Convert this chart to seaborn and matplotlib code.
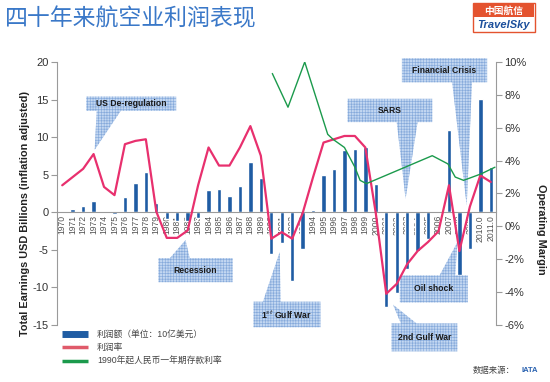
import numpy as np
import pandas as pd
import matplotlib
matplotlib.use("Agg")
import matplotlib.pyplot as plt
import seaborn as sns
from matplotlib.patches import Polygon, Rectangle
from matplotlib.lines import Line2D

# ---------------- data ----------------
years = list(range(1970, 2012))
year_labels = [str(y) for y in range(1970, 2010)] + ["2010.0", "2011.0"]
earnings = [0.0, 0.5, 0.9, 1.5, 0.1, -0.2, 2.1, 3.9, 5.3, 1.2,
            -0.9, -1.1, -1.2, -0.8, 3.0, 3.1, 2.2, 3.5, 6.7, 4.5,
            -5.5, -4.1, -9.1, -4.9, 0.3, 5.0, 5.7, 8.3, 8.4, 8.7,
            3.7, -12.6, -10.8, -7.5, -5.1, -3.6, 0.0, 10.9, -8.4, -4.9,
            15.1, 6.0]
margin = [2.5, 3.0, 3.5, 4.4, 2.4, 1.9, 5.0, 5.2, 5.3, 0.9,
          -0.7, -0.7, -0.25, 2.5, 4.8, 3.7, 3.7, 4.8, 6.1, 4.3,
          -0.75, -0.35, -0.75, 0.8, 3.0, 5.1, 5.3, 5.5, 5.5, 4.8,
          0.8, -4.1, -3.5, -2.3, -1.5, -0.95, -0.3, 2.5, -1.5, 1.2,
          3.1, 2.7]
green_years = [1990.1, 1991.6, 1993.2, 1995.4, 1995.9, 1997.0, 1998.0, 1998.5,
               1999.1, 2005.4, 2006.9, 2007.6, 2008.4, 2010.1, 2011.4]
green_rate = [9.3, 7.25, 10.0, 5.6, 5.3, 4.8, 3.6, 2.8,
              2.6, 4.3, 3.8, 3.0, 2.8, 3.2, 3.6]

left_ticks = [-15, -10, -5, 0, 5, 10, 15, 20]
right_ticks = [-6, -4, -2, 0, 2, 4, 6, 8, 10]

legend_labels = ["利润额（单位：10亿美元）", "利润率", "1990年起人民币一年期存款利率"]

# callouts: label, box (x0, x1, ybottom, ytop) in data units, pointer side, base x0, x1, tip
callouts = [
    ("US De-regulation", (2.3, 10.9, 13.5, 15.4), "bottom", (3.3, 5.6), (3.1, 8.3)),
    ("Recession", (9.2, 16.3, -9.3, -6.1), "top", (10.3, 12.2), (11.8, -3.7)),
    (r"1$^{st}$ Gulf War", (18.3, 24.7, -15.3, -11.9), "top", (19.2, 20.9), (20.8, -5.3)),
    ("SARS", (27.3, 35.4, 12.0, 15.1), "bottom", (32.0, 34.0), (32.85, 1.8)),
    ("Financial Crisis", (32.5, 40.65, 17.3, 20.5), "bottom", (37.3, 39.2), (38.7, 0.9)),
    ("Oil shock", (32.3, 38.8, -12.0, -8.4), "top", (36.1, 37.6), (37.8, -4.0)),
    ("2nd Gulf War", (31.5, 37.8, -18.5, -14.8), "top", (32.4, 33.9), (31.65, -12.3)),
]

# ---------------- style ----------------
sns.set_theme(style="white")
plt.rcParams["font.family"] = ["Liberation Sans", "Noto Sans CJK SC", "DejaVu Sans"]
plt.rcParams["axes.unicode_minus"] = False
plt.rcParams["hatch.linewidth"] = 0.45

BAR = "#1f5ca3"
PINK = "#e8306e"
GREEN = "#1b9a4c"
SPINE = "#9a9a9a"
TXT = "#333333"

fig = plt.figure(figsize=(5.5, 3.82), dpi=100)
W, H = 550, 382
ax = fig.add_axes([57 / W, 1 - 325 / H, (496 - 57) / W, (325 - 62) / H])

df = pd.DataFrame({"year": year_labels, "earn": earnings})
sns.barplot(data=df, x="year", y="earn", color=BAR, saturation=1, width=0.42,
            ax=ax, zorder=2)
ax.set_xlim(-0.5, len(years) - 0.5)
ax.set_ylim(-15, 20)
ax.set_yticks(left_ticks)
ax.set_yticklabels([str(t) for t in left_ticks])
ax.set_xlabel("")
ax.set_ylabel("")
ax.spines["bottom"].set_position(("data", 0))
for s in ["top", "right"]:
    ax.spines[s].set_visible(False)
ax.spines["left"].set_color(SPINE)
ax.spines["bottom"].set_color(SPINE)
ax.spines["left"].set_linewidth(0.8)
ax.spines["bottom"].set_linewidth(0.8)
ax.tick_params(axis="y", direction="out", length=4, width=0.8, color=SPINE,
               labelsize=8, labelcolor=TXT, pad=2, left=True)
ax.tick_params(axis="x", length=0, labelsize=6.2, labelcolor="#555555", pad=2)
plt.setp(ax.get_xticklabels(), rotation=90, va="top", ha="center")

ax2 = ax.twinx()
pos = np.arange(len(years))
sns.lineplot(x=pos, y=margin, ax=ax2, color=PINK, linewidth=1.6, zorder=4)
sns.lineplot(x=np.array(green_years) - years[0], y=green_rate, ax=ax2, sort=False,
             color=GREEN, linewidth=1.0, zorder=4)
ax2.set_ylim(-6, 10)
ax2.set_yticks(right_ticks)
ax2.set_yticklabels([f"{t}%" for t in right_ticks])
ax2.set_ylabel("")
for s in ["top", "bottom", "left"]:
    ax2.spines[s].set_visible(False)
ax2.spines["right"].set_color(SPINE)
ax2.spines["right"].set_linewidth(0.8)
ax2.tick_params(axis="y", direction="out", length=4, width=0.8, color=SPINE,
                labelsize=8, labelcolor=TXT, pad=2, right=True)
ax2.set_xlim(-0.5, len(years) - 0.5)

# callouts (drawn in left-axis units via ax.transData)
for label, (x0, x1, yb, yt), side, (bx0, bx1), (tx, ty) in callouts:
    if side == "top":
        verts = [(x0, yt), (bx0, yt), (tx, ty), (bx1, yt), (x1, yt), (x1, yb), (x0, yb)]
    else:
        verts = [(x0, yb), (bx0, yb), (tx, ty), (bx1, yb), (x1, yb), (x1, yt), (x0, yt)]
    poly = Polygon(verts, closed=True, facecolor="#c3d7f1", edgecolor="#86aadb",
                   hatch="++++++", linewidth=0, transform=ax.transData,
                   clip_on=False, zorder=3)
    ax.add_patch(poly)
    ax.text((x0 + x1) / 2, (yb + yt) / 2, label, transform=ax.transData,
            ha="center", va="center", fontsize=6.2, fontweight="bold",
            color="#1a1a1a", zorder=5, clip_on=False)

# axis titles
fig.text(25 / W, 1 - 214 / H, "Total Earnings USD Billions (inflation adjusted)",
         rotation=90, ha="center", va="center", fontsize=7.8, fontweight="bold",
         color="#222222")
fig.text(541 / W, 1 - 229 / H, "Operating Margin", rotation=-90, ha="center",
         va="center", fontsize=7.8, fontweight="bold", color="#222222")

# title
fig.text(5 / W, 1 - 19 / H, "四十年来航空业利润表现", ha="left", va="center",
         fontsize=16.5, color="#3a78c8", family=["Noto Sans CJK SC"])

# TravelSky logo
fig.add_artist(Rectangle((473 / W, 1 - 32 / H), 62 / W, 29 / H,
                         transform=fig.transFigure, facecolor="white",
                         edgecolor="#e4532f", linewidth=1.0))
fig.add_artist(Rectangle((474 / W, 1 - 17 / H), 60 / W, 13 / H,
                         transform=fig.transFigure, facecolor="#e4532f",
                         edgecolor="none"))
fig.text(504 / W, 1 - 10.5 / H, "中国航信", ha="center", va="center", fontsize=7,
         color="white", fontweight="bold", family=["Noto Sans CJK SC"])
fig.text(504 / W, 1 - 25 / H, "TravelSky", ha="center", va="center", fontsize=8,
         color="#1c4f9c", fontweight="bold", style="italic")

# legend
handles = [Line2D([], [], color=BAR, linewidth=5, solid_capstyle="butt"),
           Line2D([], [], color="#e05a6a", linewidth=2.5, solid_capstyle="butt"),
           Line2D([], [], color=GREEN, linewidth=2.5, solid_capstyle="butt")]
fig.legend(handles, legend_labels, loc="upper left",
           bbox_to_anchor=(62 / W, 1 - 330 / H), frameon=False, fontsize=6.3,
           handlelength=3.0, handletextpad=1.0, labelspacing=0.5,
           borderpad=0, borderaxespad=0, labelcolor="#444444")

# source
fig.text(515 / W, 1 - 371 / H, "数据来源：", ha="right", va="center", fontsize=6,
         color="#444444")
fig.text(530 / W, 1 - 371 / H, "IATA", ha="center", va="center", fontsize=5.5,
         color="#2a62b0", fontweight="bold")

fig.savefig("out.png", dpi=100)
